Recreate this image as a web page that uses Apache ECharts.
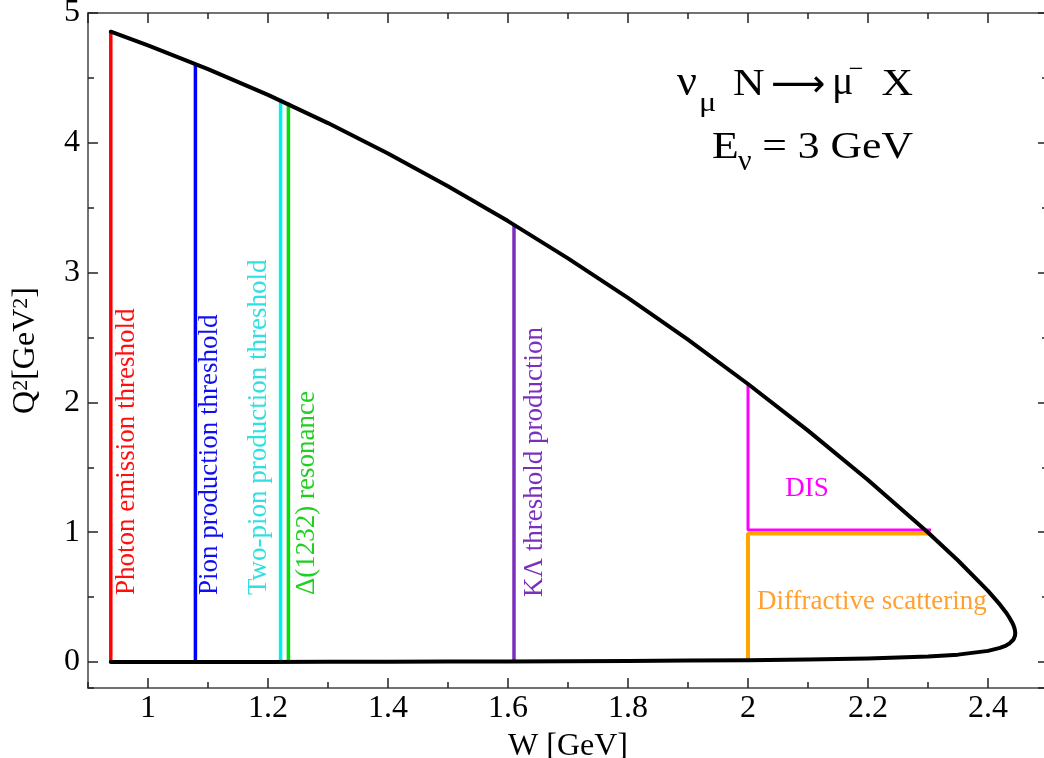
<!DOCTYPE html>
<html><head><meta charset="utf-8">
<script src="https://cdn.jsdelivr.net/npm/echarts@6/dist/echarts.min.js"></script>
<style>html,body{margin:0;padding:0;background:#fff}#c{width:1044px;height:758px}</style>
</head><body><div id="c"></div>
<script>
// Kinematic boundary (W in GeV, Q^2 in GeV^2): upper edge then lower edge
const boundaryW = [0.938, 1.0, 1.1, 1.2, 1.3, 1.4, 1.5, 1.6, 1.7, 1.8, 1.9, 2.0, 2.1, 2.2, 2.3, 2.35, 2.4, 2.42, 2.43, 2.435, 2.44, 2.4425, 2.444, 2.445, 2.4454,
  2.445, 2.444, 2.4425, 2.44, 2.435, 2.43, 2.42, 2.4, 2.35, 2.3, 2.2, 2.1, 2.0, 1.9, 1.8, 1.7, 1.6, 1.5, 1.4, 1.3, 1.2, 1.1, 1.0, 0.938];
const boundaryQ2 = [4.856, 4.750, 4.568, 4.369, 4.152, 3.918, 3.666, 3.397, 3.110, 2.805, 2.483, 2.142, 1.783, 1.402, 0.998, 0.782, 0.548, 0.442, 0.382, 0.347, 0.307, 0.282, 0.262, 0.242, 0.222,
  0.203, 0.188, 0.174, 0.160, 0.140, 0.127, 0.109, 0.086, 0.057, 0.043, 0.027, 0.019, 0.014, 0.011, 0.008, 0.006, 0.005, 0.004, 0.003, 0.002, 0.001, 0.001, 0.000, 0.000];

// Threshold lines
const thresholdNames = ['Photon emission threshold', 'Pion production threshold', 'Two-pion production threshold', 'Δ(1232) resonance', 'KΛ threshold production'];
const thresholdW = [0.938, 1.079, 1.221, 1.234, 1.61];
const thresholdQ2Low = [0.0, 0.001, 0.001, 0.001, 0.005];
const thresholdQ2High = [4.856, 4.61, 4.34, 4.31, 3.37];
const thresholdColors = ['#ff0000', '#0000ff', '#00f0f0', '#00e000', '#7b2fbe'];
const labelColors = ['#ff1010', '#1010ee', '#30e0e0', '#20d020', '#7b2fbe'];

// Region borders
const disW = [2.0, 2.0, 2.305];
const disQ2 = [2.142, 1.017, 1.017];
const diffW = [2.0, 2.0, 2.305];
const diffQ2 = [0.014, 0.99, 0.99];

// Axis ranges
const xRange = [0.9, 2.5];
const yRange = [-0.2, 5];

const FONT = "'Liberation Serif','Times New Roman',serif";
const pairs = (xs, ys) => xs.map((x, i) => [x, ys[i]]);

const chart = echarts.init(document.getElementById('c'), null, {renderer: 'canvas'});

const series = [];
thresholdW.forEach((w, i) => {
  series.push({type: 'line', name: thresholdNames[i], data: [[w, thresholdQ2Low[i]], [w, thresholdQ2High[i]]],
    symbol: 'none', silent: true, lineStyle: {color: thresholdColors[i], width: 3.5}, z: 2});
});
series.push({type: 'line', name: 'DIS', data: pairs(disW, disQ2), symbol: 'none', silent: true,
  lineStyle: {color: '#ff00ff', width: 3}, z: 2});
series.push({type: 'line', name: 'Diffractive', data: pairs(diffW, diffQ2), symbol: 'none', silent: true,
  lineStyle: {color: '#ffa500', width: 4}, z: 3});
series.push({type: 'line', name: 'boundary', data: pairs(boundaryW, boundaryQ2), symbol: 'none', silent: true,
  lineStyle: {color: '#000', width: 4, join: 'round', cap: 'round'}, z: 5});

const axisLine = {show: true, onZero: false, lineStyle: {color: '#444', width: 1.5}};
const noLine = {show: false, onZero: false};
function xAx(pos, major, gridIndex) {
  return {type: 'value', gridIndex: gridIndex, position: pos, min: xRange[0], max: xRange[1], splitNumber: major ? 8 : 16,
    axisLine: major ? axisLine : noLine,
    axisTick: {show: true, inside: true, length: major ? 10 : 6, lineStyle: {color: '#222', width: 1.5}},
    axisLabel: (pos === 'bottom' && major) ? {show: true, showMinLabel: false, showMaxLabel: false, fontSize: 32, fontFamily: FONT, color: '#000', margin: 5} : {show: false},
    splitLine: {show: false},
    name: (pos === 'bottom' && major) ? 'W [GeV]' : '', nameLocation: 'middle', nameGap: 43,
    nameTextStyle: {fontSize: 32, fontFamily: FONT, color: '#000'}};
}
function yAx(pos, major, gridIndex) {
  return {type: 'value', gridIndex: gridIndex, position: pos, min: yRange[0], max: yRange[1], splitNumber: major ? 5 : 10,
    axisLine: major ? axisLine : noLine,
    axisTick: {show: true, inside: true, length: major ? 10 : 6, lineStyle: {color: '#222', width: 1.5}},
    axisLabel: (pos === 'left' && major) ? {show: true, showMinLabel: false, showMaxLabel: true, fontSize: 32, fontFamily: FONT, color: '#000', margin: 8} : {show: false},
    splitLine: {show: false},
    name: (pos === 'left' && major) ? 'Q{s|2}[GeV{s|2}]' : '', nameLocation: 'middle', nameGap: 46, nameRotate: 90,
    nameTextStyle: {fontSize: 32, fontFamily: FONT, color: '#000', lineHeight: 32,
      rich: {s: {fontSize: 22, fontFamily: FONT, color: '#000', lineHeight: 22, verticalAlign: 'top'}}}};
}

function txt(x, y, text, size, color, opts) {
  opts = opts || {};
  const style = Object.assign({text: text, fontSize: size, fontFamily: FONT, fill: color, textAlign: 'left', textVerticalAlign: 'middle'}, opts.style || {});
  const el = {type: 'text', x: x, y: y, silent: true, z: 10, style: style};
  if (opts.rotation != null) el.rotation = opts.rotation;
  if (opts.scaleX != null) el.scaleX = opts.scaleX;
  return el;
}

const labelX = [127, 210, 259, 307, 535];
const labelY = [595, 595, 595, 595, 597];
const graphics = [];
thresholdNames.forEach((t, i) => {
  graphics.push(txt(labelX[i], labelY[i], t, 27, labelColors[i], {rotation: Math.PI / 2}));
});
graphics.push(txt(807, 489, 'DIS', 27, '#ff00ff', {style: {textAlign: 'center'}}));
graphics.push(txt(757, 602, 'Diffractive scattering', 27, '#ffa030'));
// Title
const SX = 1.15;
graphics.push(txt(677, 83, 'ν', 44, '#000'));
graphics.push(txt(699, 104, 'μ', 28, '#000', {scaleX: SX}));
graphics.push(txt(733, 85, 'N', 38, '#000', {scaleX: SX}));
graphics.push(txt(771, 86, '⟶', 38, '#000', {style: {fontFamily: "'DejaVu Sans',sans-serif"}}));
graphics.push(txt(832, 83, 'μ', 40, '#000'));
graphics.push(txt(856, 70, '−', 26, '#000', {style: {textAlign: 'center'}}));
graphics.push(txt(913, 85, 'X', 38, '#000', {scaleX: SX, style: {textAlign: 'right'}}));
graphics.push(txt(712, 148, 'E', 38, '#000', {scaleX: SX}));
graphics.push(txt(738, 162, 'ν', 30, '#000'));
graphics.push(txt(913, 148, '= 3 GeV', 38, '#000', {scaleX: SX, style: {textAlign: 'right'}}));

const gridRect = {left: 88, right: -4, top: 13, bottom: 70, containLabel: false, outerBoundsMode: 'none'};
chart.setOption({
  animation: false,
  backgroundColor: '#fff',
  grid: [Object.assign({}, gridRect), Object.assign({}, gridRect)],
  xAxis: [xAx('bottom', true, 0), xAx('top', true, 0), xAx('bottom', false, 1), xAx('top', false, 1)],
  yAxis: [yAx('left', true, 0), yAx('right', true, 0), yAx('left', false, 1), yAx('right', false, 1)],
  series: series,
  graphic: graphics
});
</script></body></html>
